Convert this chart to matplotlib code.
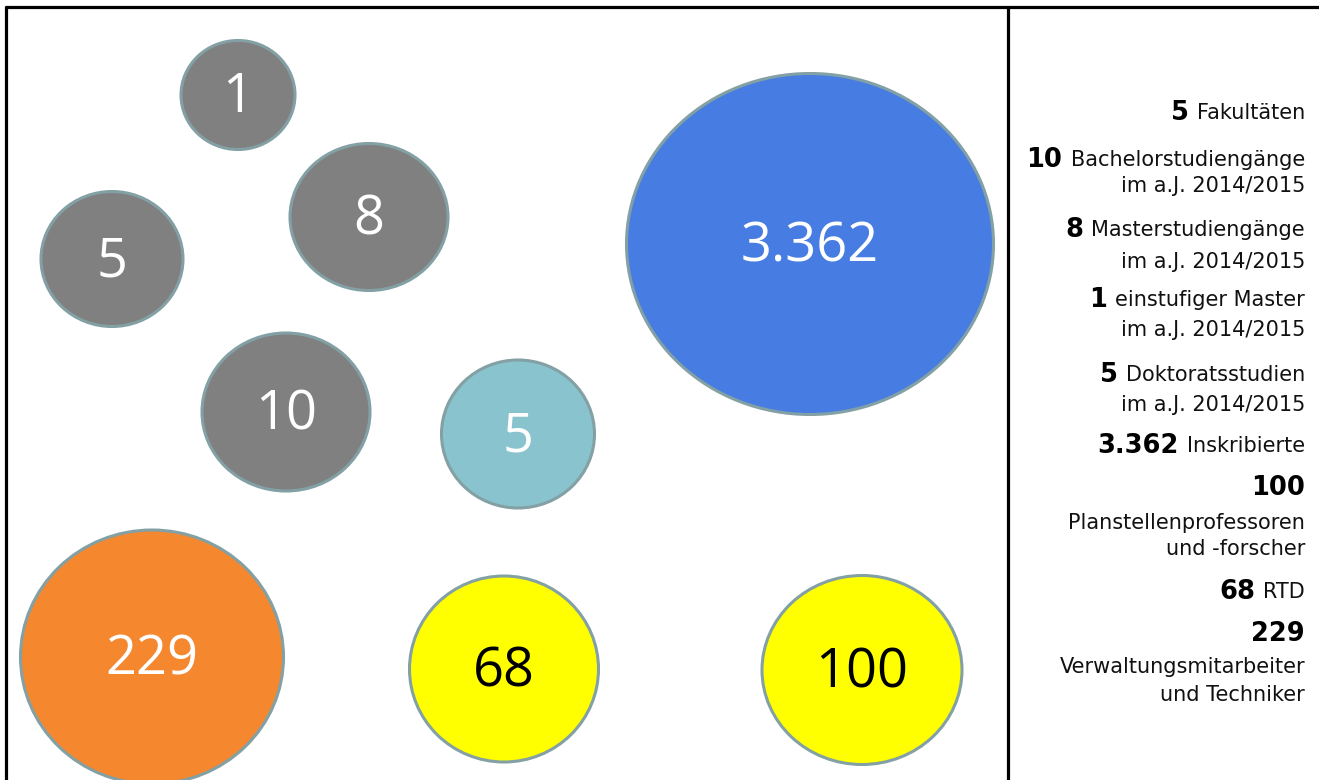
"""Bubble overview: Fakultäten, Studiengänge, Inskribierte, Personal."""

import matplotlib
matplotlib.use("Agg")
import matplotlib.pyplot as plt
from matplotlib.patches import Ellipse

W, H = 1319, 780

# bubble values and labels (as printed in the reference)
bubble_labels = ["1", "8", "5", "10", "5", "3.362", "229", "68", "100"]
bubble_x = [238, 369, 112, 286, 518, 810, 152, 504, 862]
bubble_y = [95, 217, 259, 412, 434, 244, 657, 669, 670]
bubble_w = [114, 158, 142, 168, 153, 367, 263, 189, 200]
bubble_h = [109, 147, 135, 158, 148, 341, 254, 186, 189]
bubble_colors = ["#808080", "#808080", "#808080", "#808080", "#89C4CE",
                 "#477DE2", "#F5872F", "#FFFF00", "#FFFF00"]
text_colors = ["white"] * 7 + ["black", "black"]

# right-hand legend: (bold number, first line, optional further lines)
legend_numbers = ["5", "10", "8", "1", "5", "3.362", "100", "68", "229"]
legend_first = ["Fakultäten", "Bachelorstudiengänge", "Masterstudiengänge",
                "einstufiger Master", "Doktoratsstudien", "Inskribierte",
                "", "RTD", ""]
legend_extra = [[], ["im a.J. 2014/2015"], ["im a.J. 2014/2015"],
                ["im a.J. 2014/2015"], ["im a.J. 2014/2015"], [],
                ["Planstellenprofessoren", "und -forscher"], [],
                ["Verwaltungsmitarbeiter", "und Techniker"]]
legend_y = [113, 160, 230, 300, 375, 446, 488, 592, 634]
extra_y = [[], [186], [262], [330], [405], [], [523, 549], [], [667, 695]]

BUBBLE_FONT = "Open Sans"
PANEL_FONT = "DejaVu Sans"

fig = plt.figure(figsize=(W / 100, H / 100), dpi=100)
ax = fig.add_axes([0, 0, 1, 1])
ax.set_xlim(0, W)
ax.set_ylim(H, 0)
ax.axis("off")

# frame: top line, left line, divider
ax.plot([5, W], [6.5, 6.5], color="black", lw=2.3, solid_capstyle="butt")
ax.plot([5.5, 5.5], [6, H], color="black", lw=2.3, solid_capstyle="butt")
ax.plot([1008, 1008], [6, H], color="black", lw=2.3, solid_capstyle="butt")

for lab, x, y, w, h, fc, tc in zip(bubble_labels, bubble_x, bubble_y, bubble_w,
                                   bubble_h, bubble_colors, text_colors):
    ax.add_patch(Ellipse((x, y), w, h, facecolor=fc, edgecolor="#83A0A5", lw=2.2))
    ax.text(x, y + 3, lab, color=tc, fontsize=39, family=BUBBLE_FONT,
            ha="center", va="center")

x_right = 1305
for num, first, extra, y, ey in zip(legend_numbers, legend_first, legend_extra,
                                     legend_y, extra_y):
    if first:
        t = ax.text(x_right, y, first, fontsize=15, family=PANEL_FONT,
                    ha="right", va="center", color="#111111")
        ax.annotate(num, xy=(0, 0.5), xycoords=t, xytext=(-6, 0),
                    textcoords="offset points", fontsize=18.5, fontweight="bold",
                    family=PANEL_FONT, ha="right", va="center")
    else:
        ax.text(x_right, y, num, fontsize=18.5, fontweight="bold",
                family=PANEL_FONT, ha="right", va="center")
    for line, yy in zip(extra, ey):
        ax.text(x_right, yy, line, fontsize=15, family=PANEL_FONT,
                ha="right", va="center", color="#111111")

fig.savefig("out.png", dpi=100)
